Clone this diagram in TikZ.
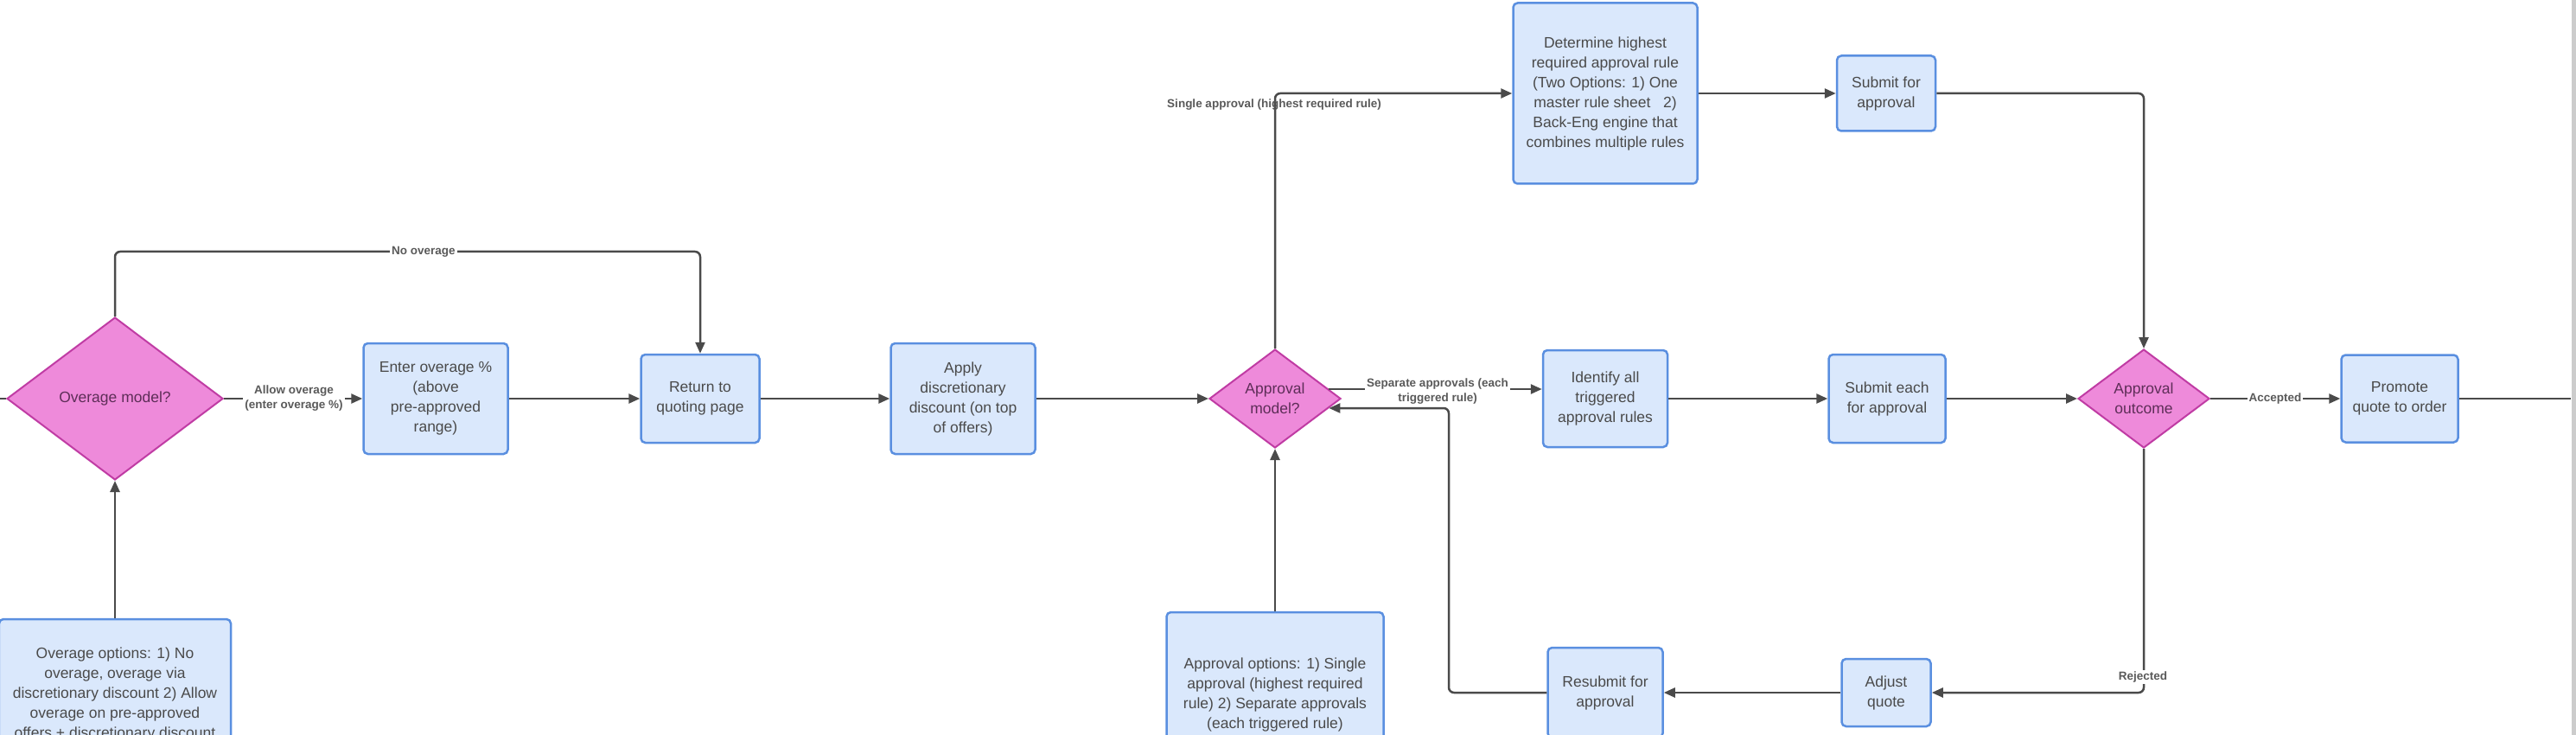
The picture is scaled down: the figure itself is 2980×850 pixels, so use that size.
\documentclass[tikz,border=0pt]{standalone}
\usepackage{fontspec}
\setmainfont{Liberation Sans}
\usetikzlibrary{shapes.geometric,arrows.meta,calc}
\definecolor{boxfill}{HTML}{DAE8FC}
\definecolor{boxdraw}{HTML}{5A8FE0}
\definecolor{dfill}{HTML}{EE8ADA}
\definecolor{ddraw}{HTML}{C03CA4}
\definecolor{txt}{HTML}{4A4A4A}
\definecolor{dtxt}{HTML}{5E2E58}
\definecolor{ln}{HTML}{4A4A4A}
\definecolor{lbl}{HTML}{5A5A5A}
\begin{document}
\begin{tikzpicture}[x=1pt,y=-1pt,
 box/.style={draw=boxdraw, line width=2.5pt, fill=boxfill, rounded corners=5pt, align=center, text=txt, font=\fontsize{17.5}{23}\selectfont, inner sep=0pt},
 dia/.style={diamond, aspect=1.33, draw=ddraw, line width=2pt, fill=dfill, align=center, text=dtxt, font=\fontsize{17.5}{23}\selectfont, inner sep=0pt},
 arr/.style={draw=ln, line width=2.5pt, -{Triangle[length=13pt,width=11pt]}, rounded corners=6pt},
 plain/.style={draw=ln, line width=2.5pt, rounded corners=6pt},
 lab/.style={fill=white, text=lbl, font=\bfseries\fontsize{13.5}{17}\selectfont, align=center, inner sep=2pt}]

\useasboundingbox[fill=white] (0,0) rectangle (2980,850);

% nodes
\node[dia, minimum width=250pt, minimum height=188pt] (ovm) at (133,461) {Overage model?};
\node[box, minimum width=268pt, minimum height=174pt] (ovopt) at (133,803) {Overage options: 1) No\\overage, overage via\\discretionary discount 2) Allow\\overage on pre-approved\\offers + discretionary discount};
\node[box, minimum width=167pt, minimum height=128pt] (enter) at (504,461) {Enter overage \%\\(above\\pre-approved\\range)};
\node[box, minimum width=137pt, minimum height=102pt] (ret) at (810,461) {Return to\\quoting page};
\node[box, minimum width=167pt, minimum height=128pt] (apply) at (1114,461) {Apply\\discretionary\\discount (on top\\of offers)};
\node[dia, minimum width=152pt, minimum height=114pt] (apm) at (1475,461) {Approval\\model?};
\node[box, minimum width=251pt, minimum height=190pt] (apopt) at (1475,803) {Approval options: 1) Single\\approval (highest required\\rule) 2) Separate approvals\\(each triggered rule)};
\node[box, minimum width=213pt, minimum height=209pt] (det) at (1857,108) {Determine highest\\required approval rule\\(Two Options: 1) One\\master rule sheet\ \ \ 2)\\Back-Eng engine that\\combines multiple rules};
\node[box, minimum width=114pt, minimum height=87pt] (sub1) at (2182,108) {Submit for\\approval};
\node[box, minimum width=144pt, minimum height=112pt] (ident) at (1857,461) {Identify all\\triggered\\approval rules};
\node[box, minimum width=135pt, minimum height=102pt] (subeach) at (2183,461) {Submit each\\for approval};
\node[dia, minimum width=152pt, minimum height=114pt] (apo) at (2480,461) {Approval\\outcome};
\node[box, minimum width=135pt, minimum height=101pt] (prom) at (2776,461) {Promote\\quote to order};
\node[box, minimum width=103pt, minimum height=78pt] (adj) at (2182,801) {Adjust\\quote};
\node[box, minimum width=133pt, minimum height=104pt] (resub) at (1857,801) {Resubmit for\\approval};

\coordinate (ledge) at (0,461);
\coordinate (redge) at (2974,461);
\coordinate (ny) at (0,291);
\coordinate (rx) at (1676,0);

% connectors
\draw[plain] (ledge) -- (ovm.west);
\draw[arr] (ovopt.north) -- (ovm.south);
\draw[arr] (ovm.east) -- (enter.west);
\draw[arr] (ovm.north) -- (ovm.north |- ny) -| (ret.north);
\draw[arr] (enter.east) -- (ret.west);
\draw[arr] (ret.east) -- (apply.west);
\draw[arr] (apply.east) -- (apm.west);
\draw[arr] (apopt.north) -- (apm.south);
\draw[arr] (apm.north) |- (det.west);
\draw[arr] (det.east) -- (sub1.west);
\draw[arr] (sub1.east) -| (apo.north);
\draw[arr] (apm.10) -- (apm.10 -| ident.west);
\draw[arr] (resub.west) -| (apm.-10 -| rx) -- (apm.-10);
\draw[arr] (ident.east) -- (subeach.west);
\draw[arr] (subeach.east) -- (apo.west);
\draw[arr] (apo.east) -- (prom.west);
\draw[plain] (prom.east) -- (redge);
\draw[arr] (apo.south) |- (adj.east);
\draw[arr] (adj.west) -- (resub.east);

% labels
\node[lab] (l1) at (340,461) {Allow overage\\(enter overage \%)};
\node[lab] (l2) at (490,291) {No overage};
\node[lab, fill=none] (l3) at (1474,121) {Single approval (highest required rule)};
\node[lab] (l4) at (1663,453) {Separate approvals (each\\triggered rule)};
\node[lab] (l5) at (2632,461) {Accepted};
\node[lab] (l6) at (2479,783) {Rejected};

% window edge
\fill[gray!40] (2975,0) rectangle (2980,850);
\end{tikzpicture}
\end{document}
